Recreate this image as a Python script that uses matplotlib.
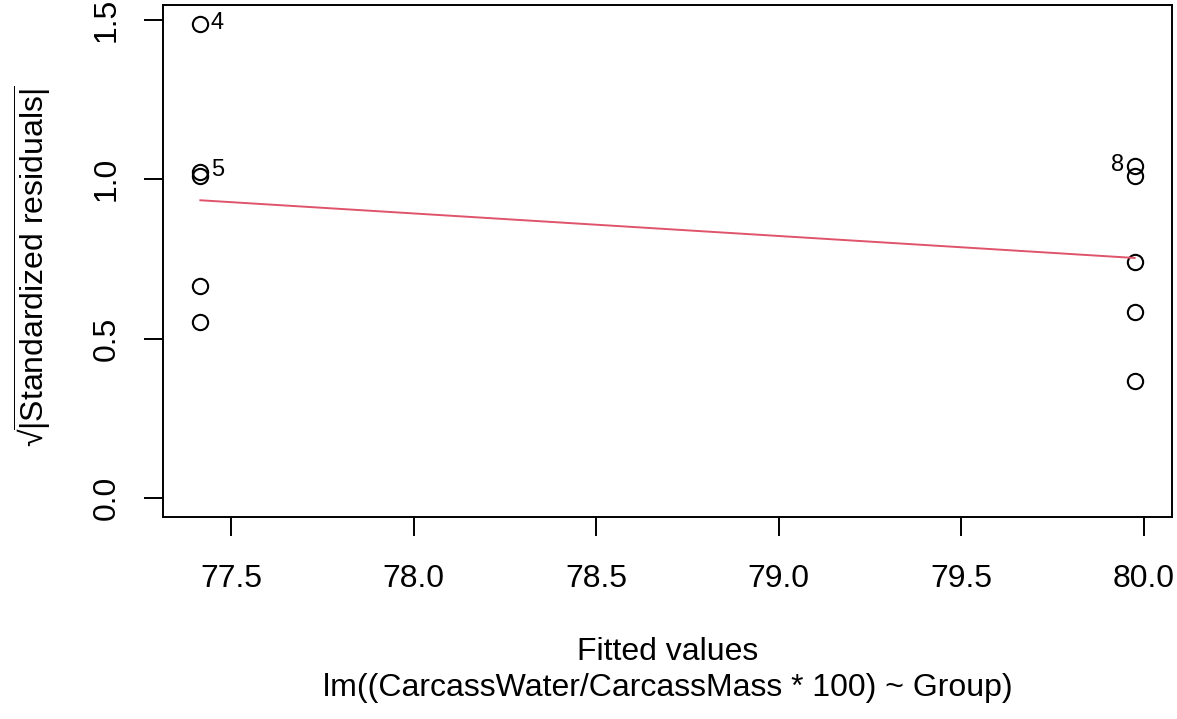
import matplotlib
matplotlib.use("Agg")
import matplotlib.pyplot as plt

plt.rcParams['font.family'] = ['Liberation Sans', 'DejaVu Sans']
plt.rcParams['mathtext.fontset'] = 'custom'
plt.rcParams['mathtext.rm'] = 'Liberation Sans'
plt.rcParams['mathtext.it'] = 'Liberation Sans:italic'

# valores ajustados y raiz de residuos estandarizados
ajustados = [77.415, 77.415, 77.415, 77.415, 77.415,
             79.975, 79.975, 79.975, 79.975, 79.975]
raiz_res = [1.487, 1.024, 1.010, 0.665, 0.551,
            1.041, 1.010, 0.739, 0.585, 0.368]
# etiquetas de observaciones extremas (indice en las listas, texto, lado)
etiquetas = [(0, "4", "der"), (1, "5", "der"), (5, "8", "izq")]
# curva suavizada (lowess)
suave_x = [77.415, 79.975]
suave_y = [0.934, 0.753]

fig = plt.figure(figsize=(11.77, 7.19), dpi=100)
ax = fig.add_axes([163/1177, 1 - 517/719, (1172 - 163)/1177, (517 - 5)/719])

ax.plot(ajustados, raiz_res, 'o', mfc='none', mec='black', ms=11, mew=1.5)
ax.plot(suave_x, suave_y, color='#DF536B', lw=1.4)

for i, txt, lado in etiquetas:
    if lado == "der":
        ax.annotate(txt, (ajustados[i], raiz_res[i]), xytext=(7.5, 1), textcoords='offset points',
                    ha='left', va='center', fontsize=17)
    else:
        ax.annotate(txt, (ajustados[i], raiz_res[i]), xytext=(-7.5, 1), textcoords='offset points',
                    ha='right', va='center', fontsize=17)

# limites al estilo R (4% de margen)
xr = max(ajustados) - min(ajustados)
ax.set_xlim(min(ajustados) - 0.04*xr, max(ajustados) + 0.04*xr)
ax.set_ylim(-0.04*max(raiz_res), max(raiz_res)*1.04)

ax.set_xticks([77.5, 78.0, 78.5, 79.0, 79.5, 80.0])
ax.set_xticklabels(["77.5", "78.0", "78.5", "79.0", "79.5", "80.0"])
ax.set_yticks([0.0, 0.5, 1.0, 1.5])
ax.set_yticklabels(["0.0", "0.5", "1.0", "1.5"], rotation=90, va='center')
ax.tick_params(axis='both', length=13.5, width=1.4, labelsize=23)
ax.tick_params(axis='x', pad=20)
ax.tick_params(axis='y', pad=16)

for s in ax.spines.values():
    s.set_linewidth(1.4)

fig.text((163 + 1172)/2/1177, 1 - 652/719, "Fitted values", ha='center', va='center', fontsize=23)
fig.text((163 + 1172)/2/1177, 1 - 688/719, "lm((CarcassWater/CarcassMass * 100) ~ Group)",
         ha='center', va='center', fontsize=23)
fig.text(33/1177, 1 - 266/719, '$\u221a\\overline{|\\mathrm{Standardized\\ residuals}|}$',
         rotation=90, ha='center', va='center', fontsize=23)

fig.savefig("out.png", dpi=100)
